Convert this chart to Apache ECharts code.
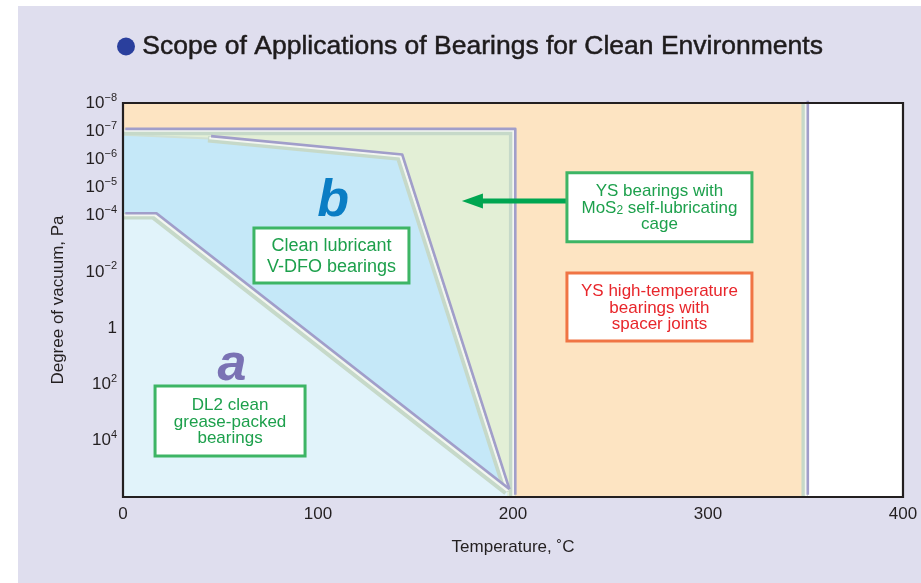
<!DOCTYPE html>
<html>
<head>
<meta charset="utf-8">
<script src="https://cdn.jsdelivr.net/npm/echarts@6/dist/echarts.min.js"></script>
<style>
html,body{margin:0;padding:0;background:#ffffff;}
#chart{width:921px;height:583px;}
</style>
</head>
<body>
<div id="chart"></div>
<script>
// ---- data (x: temperature in °C, y: exponent of degree of vacuum in Pa) ----
const xTicks = [0, 100, 200, 300, 400];
const yTickExps = [-8, -7, -6, -5, -4, -2, 0, 2, 4];
const xRange = [0, 400];
const yRange = [-8, 6];

// application zones (polygons in data units)
const zoneOutside = [[350, -8], [400, -8], [400, 6], [350, 6]];        // beyond range
const zoneHighTemp = [[0, -8], [350, -8], [350, 6], [0, 6]];           // YS high-temperature bearings
const zoneMoS2 = [[0, -7], [200, -7], [200, 6], [0, 6]];               // YS bearings with MoS2 cage
const zoneB = [[0, -6.87], [44, -6.74], [142, -6.09], [197, 5.8], [197, 6], [0, 6]]; // V-DFO
const zoneA = [[0, -4], [16, -4], [197, 5.8], [197, 6], [0, 6]];       // DL2 grease

// zone boundary lines
const edgeHighTemp = [[350, -8], [350, 6]];
const edgeMoS2 = [[0, -7], [200, -7], [200, 6]];
const edgeBThin = [[0, -6.87], [44, -6.74]];
const edgeB = [[44, -6.74], [142, -6.09], [197, 5.8]];
const edgeA = [[0, -4], [16, -4], [197, 5.8]];

// annotations anchored in data units
const letterLabels = [
  {text: 'b', at: [107.7, -4.48], color: '#0A7DC4'},
  {text: 'a', at: [55.9, 1.35], color: '#7A72B4'}
];
const boxLabels = [
  {lines: ['Clean lubricant', 'V-DFO bearings'], at: [106.9, -2.58], kind: 'vdfo'},
  {lines: ['DL2 clean', 'grease-packed', 'bearings'], at: [54.9, 3.30], kind: 'dl2'},
  {lines: ['YS bearings with', 'MoS{sub|2} self-lubricating', 'cage'], at: [275.1, -4.30], kind: 'mos2'},
  {lines: ['YS high-temperature', 'bearings with', 'spacer joints'], at: [275.1, -0.75], kind: 'hot'}
];
const arrowFromTo = [[227.7, -4.52], [173.8, -4.52]];

// ---- styles ----
const FONT = '"Liberation Sans", Arial, Helvetica, sans-serif';
const TXT = '#231F20';
const boxStyles = {
  vdfo: {w: 155, h: 55, size: 18, lh: 21, fill: '#1DA04C', stroke: '#3DB565'},
  dl2:  {w: 150, h: 70, size: 17, lh: 16.5, fill: '#1DA04C', stroke: '#3DB565'},
  mos2: {w: 185, h: 69, size: 17, lh: 16.5, fill: '#1DA04C', stroke: '#3DB565'},
  hot:  {w: 185, h: 68, size: 17, lh: 16.5, fill: '#E8262B', stroke: '#F07444'}
};

function renderItem(params, api) {
  const P = pts => pts.map(p => api.coord(p));
  const kids = [];
  const poly = (pts, color) => kids.push({type: 'polygon', shape: {points: P(pts)}, style: {fill: color}});
  const band = (pts) => {
    const px = P(pts);
    kids.push({type: 'polyline', shape: {points: px}, x: -0.8, y: 0.8, style: {stroke: '#C6D9C9', lineWidth: 6.5, fill: null, lineJoin: 'round'}});
    kids.push({type: 'polyline', shape: {points: px}, x: 0.5, y: -0.5, style: {stroke: '#F3F6F1', lineWidth: 2.4, fill: null, lineJoin: 'round'}});
    kids.push({type: 'polyline', shape: {points: px}, x: 2.3, y: -2.3, style: {stroke: '#A19ECA', lineWidth: 2.6, fill: null, lineJoin: 'round'}});
  };
  poly(zoneOutside, '#FFFFFF');
  poly(zoneHighTemp, '#FDE4C2');
  poly(zoneMoS2, '#E3EFD6');
  poly(zoneB, '#C5E8F8');
  poly(zoneA, '#E1F3FA');
  band(edgeHighTemp);
  kids.push({type: 'polyline', shape: {points: P(edgeBThin)}, style: {stroke: '#CFE0D3', lineWidth: 2, fill: null}});
  band(edgeMoS2);
  band(edgeB);
  band(edgeA);

  // arrow
  const a0 = api.coord(arrowFromTo[0]), a1 = api.coord(arrowFromTo[1]);
  kids.push({type: 'line', shape: {x1: a0[0], y1: a0[1], x2: a1[0] + 18, y2: a1[1]}, style: {stroke: '#00A651', lineWidth: 5}});
  kids.push({type: 'polygon', shape: {points: [[a1[0], a1[1]], [a1[0] + 21, a1[1] - 7.5], [a1[0] + 21, a1[1] + 7.5]]}, style: {fill: '#00A651'}});

  // boxes
  boxLabels.forEach(b => {
    const s = boxStyles[b.kind];
    const c = api.coord(b.at);
    kids.push({type: 'rect', shape: {x: c[0] - s.w / 2, y: c[1] - s.h / 2, width: s.w, height: s.h},
      style: {fill: '#ffffff', stroke: s.stroke, lineWidth: 3}});
    kids.push({type: 'text', x: c[0], y: c[1] + 1, style: {
      text: b.lines.join('\n'), fill: s.fill, fontSize: s.size, fontFamily: FONT, lineHeight: s.lh,
      align: 'center', verticalAlign: 'middle',
      rich: {sub: {fontSize: 12, fontFamily: FONT, fill: s.fill, verticalAlign: 'bottom', lineHeight: 12}}
    }});
  });

  // letters
  letterLabels.forEach(l => {
    const c = api.coord(l.at);
    kids.push({type: 'text', x: c[0], y: c[1], style: {
      text: l.text, fill: l.color, fontSize: 52, fontWeight: 'bold', fontStyle: 'italic', fontFamily: FONT,
      align: 'center', verticalAlign: 'middle'}});
  });

  // plot frame
  const tl = api.coord([xRange[0], yRange[0]]), br = api.coord([xRange[1], yRange[1]]);
  kids.push({type: 'rect', shape: {x: tl[0], y: tl[1], width: br[0] - tl[0], height: br[1] - tl[1]},
    style: {fill: null, stroke: TXT, lineWidth: 2.2}});
  return {type: 'group', children: kids};
}

const chart = echarts.init(document.getElementById('chart'), null, {renderer: 'canvas'});
chart.setOption({
  backgroundColor: '#ffffff',
  animation: false,
  graphic: [{type: 'rect', left: 18, top: 6, z: -100, shape: {width: 903, height: 577}, style: {fill: '#DFDEEE'}}],
  title: {
    text: '{dot|} Scope of Applications of Bearings for Clean Environments',
    left: 117, top: 33, padding: 0,
    textStyle: {
      fontFamily: FONT, fontSize: 26.5, fontWeight: 'normal', color: '#1E1B1C',
      textBorderColor: '#1E1B1C', textBorderWidth: 0.5,
      rich: {
        dot: {width: 18, height: 18, borderRadius: 9, backgroundColor: '#2A3F9D'}
      }
    }
  },
  grid: {left: 123, right: 18, top: 103, bottom: 86, containLabel: false},
  xAxis: {
    type: 'value', min: xRange[0], max: xRange[1], interval: 100,
    name: 'Temperature, ˚C', nameLocation: 'middle', nameGap: 42,
    nameTextStyle: {fontFamily: FONT, fontSize: 17, color: TXT},
    axisLine: {show: false}, axisTick: {show: false}, splitLine: {show: false},
    axisLabel: {fontFamily: FONT, fontSize: 17, color: TXT, margin: 9,
      formatter: v => xTicks.includes(v) ? String(v) : ''}
  },
  yAxis: {
    type: 'value', min: yRange[0], max: yRange[1], interval: 1, inverse: true,
    name: 'Degree of vacuum, Pa', nameLocation: 'middle', nameGap: 56, nameRotate: 90,
    nameTextStyle: {fontFamily: FONT, fontSize: 17, color: TXT},
    axisLine: {show: false}, axisTick: {show: false}, splitLine: {show: false},
    axisLabel: {
      fontFamily: FONT, fontSize: 17, color: TXT, margin: 6,
      formatter: v => {
        if (!yTickExps.includes(v)) return '';
        if (v === 0) return '{b|1}';
        return '{b|10}{s|' + (v < 0 ? '\u2212' + (-v) : String(v)) + '}';
      },
      rich: {
        b: {fontFamily: FONT, fontSize: 17, color: TXT, lineHeight: 22, verticalAlign: 'middle'},
        s: {fontFamily: FONT, fontSize: 11, color: TXT, verticalAlign: 'top'}
      }
    }
  },
  series: [{
    type: 'custom', coordinateSystem: 'cartesian2d', silent: true, clip: false,
    data: [[0, 0]], renderItem: renderItem
  }]
});
</script>
</body>
</html>
